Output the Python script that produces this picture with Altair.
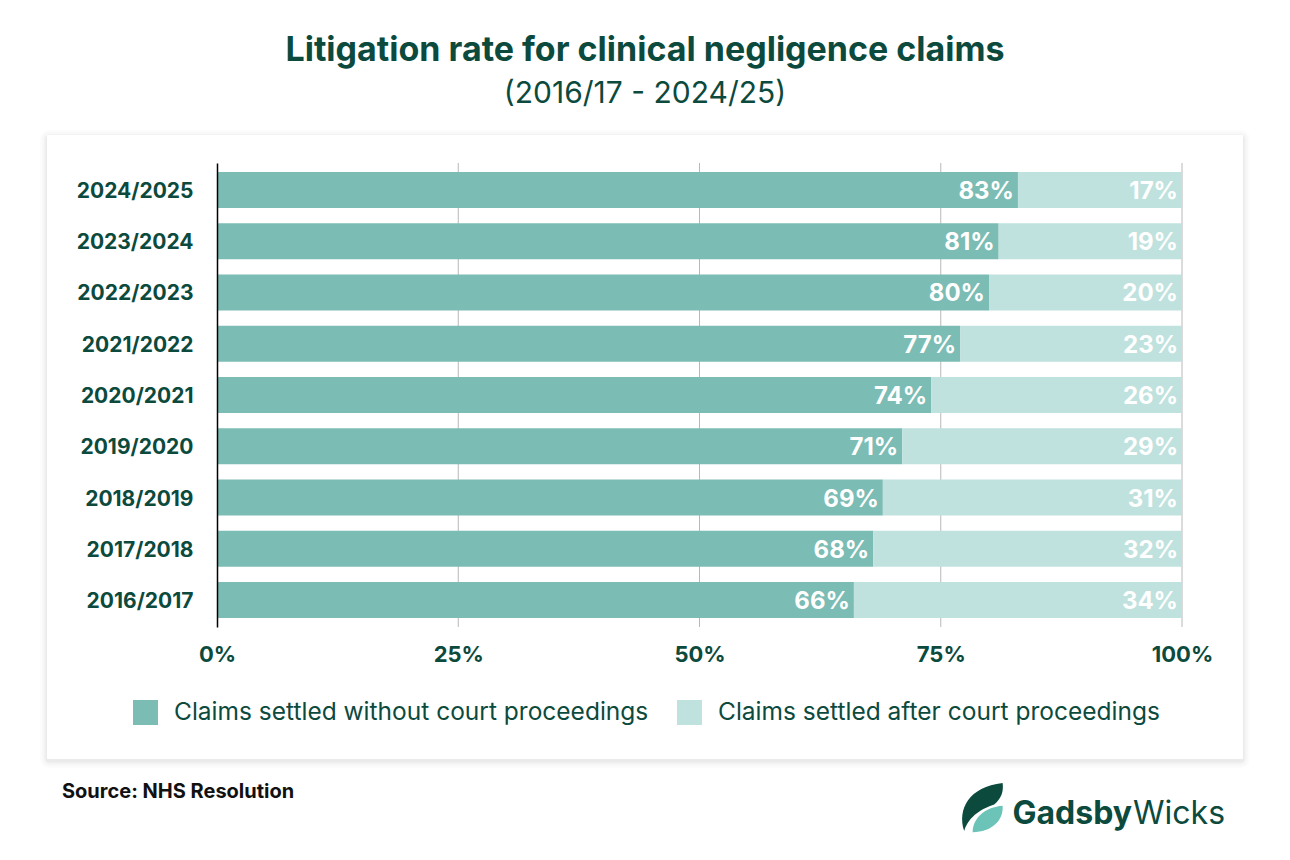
import altair as alt
import pandas as pd

years = ["2016/2017", "2017/2018", "2018/2019", "2019/2020", "2020/2021",
         "2021/2022", "2022/2023", "2023/2024", "2024/2025"]
without_court = [66, 68, 69, 71, 74, 77, 80, 81, 83]
after_court = [34, 32, 31, 29, 26, 23, 20, 19, 17]
series = ["Claims settled without court proceedings", "Claims settled after court proceedings"]
colors = ["#7bbcb4", "#bfe2de"]
x_ticks = [0, 25, 50, 75, 100]
grid_vals = [25, 50, 75, 100]

DARK = "#0c4a3d"
FONT = "Inter"
W, H = 965, 464

rows = []
for y, a, b in zip(years, without_court, after_court):
    rows.append({"year": y, "series": series[0], "value": a, "order": 0})
    rows.append({"year": y, "series": series[1], "value": b, "order": 1})
df = pd.DataFrame(rows)
year_sort = list(reversed(years))

# card background with soft shadow
card_df = pd.DataFrame({"k": [0]})
def card(pad, op):
    return alt.Chart(card_df).mark_rect(fill="#000000", opacity=op, cornerRadius=pad + 2).encode(
        x=alt.value(-170 - pad), x2=alt.value(1026 + pad),
        y=alt.value(-28 - pad + 2), y2=alt.value(596 + pad + 2))
shadows = [card(p, o) for p, o in [(7, 0.012), (5, 0.015), (3, 0.02), (1.5, 0.03)]]
card_main = alt.Chart(card_df).mark_rect(fill="#ffffff").encode(
    x=alt.value(-170), x2=alt.value(1026), y=alt.value(-28), y2=alt.value(596))

grid = alt.Chart(pd.DataFrame({"g": grid_vals})).mark_rule(color="#b8b8b8", strokeWidth=1).encode(
    x=alt.X("g:Q", scale=alt.Scale(domain=[0, 100])),
    y=alt.value(0), y2=alt.value(H))

base = alt.Chart(df)
bars = base.mark_bar(size=36).encode(
    x=alt.X("value:Q", stack="zero", scale=alt.Scale(domain=[0, 100]),
            axis=alt.Axis(values=x_ticks, labelExpr="datum.value + '%'", title=None, grid=False,
                          domain=False, ticks=False, labelFont=FONT, labelFontSize=22,
                          labelFontWeight="bold", labelColor=DARK, labelPadding=17,
                          labelFlush=False, zindex=1)),
    y=alt.Y("year:N", sort=year_sort,
            scale=alt.Scale(paddingInner=0.3, paddingOuter=0.175),
            axis=alt.Axis(title=None, ticks=False, domain=True, domainColor="#000000",
                          domainWidth=1.5, labelFont=FONT, labelFontSize=21,
                          labelFontWeight="bold", labelColor=DARK, labelPadding=24,
                          labelOffset=2, zindex=1)),
    color=alt.Color("series:N", scale=alt.Scale(domain=series, range=colors),
                    legend=alt.Legend(title=None, orient="none", legendX=-84, legendY=537,
                                      direction="horizontal", symbolType="square",
                                      symbolSize=625, symbolStrokeWidth=0, symbolOpacity=1,
                                      labelFont=FONT, labelFontSize=24.5, labelColor=DARK,
                                      labelLimit=0, labelOffset=16, columnPadding=28, zindex=1)),
    order=alt.Order("order:Q"),
)

labels = base.transform_stack(
    stack="value", groupby=["year"], as_=["v0", "v1"],
    sort=[alt.SortField("order", order="ascending")]
).transform_calculate(lbl="datum.value + '%'").mark_text(
    align="right", baseline="middle", dx=-4, dy=2, color="white",
    font=FONT, fontSize=24, fontWeight="bold"
).encode(
    x=alt.X("v1:Q"),
    y=alt.Y("year:N", sort=year_sort),
    text="lbl:N",
)

def txt(s, x, y, size, weight="normal", color=DARK, align="center"):
    return alt.Chart(pd.DataFrame({"t": [s]})).mark_text(
        align=align, baseline="alphabetic", font=FONT, fontSize=size,
        fontWeight=weight, color=color).encode(
        x=alt.value(x), y=alt.value(y), text="t:N")

title = txt("Litigation rate for clinical negligence claims", 428, -102, 34, "bold")
subtitle = txt("(2016/17 - 2024/25)", 428, -60, 30)
source = txt("Source: NHS Resolution", -155, 635, 20, "bold", "#111111", "left")
logo1 = txt("Gadsby", 915, 661, 32, "bold", DARK, "right")
logo2 = txt("Wicks", 916, 661, 32, "normal", DARK, "left")

leaf_dark = "M 0.9 -1 C -0.5 -0.85 -1.0 0.1 -0.7 1 C -0.5 0.35 0.1 0.05 0.55 -0.1 C 0.85 -0.35 0.95 -0.65 0.9 -1 Z"
leaf_light = "M 0.9 -0.05 C 0.2 0.0 -0.35 0.45 -0.35 1.05 C 0.45 1.05 0.95 0.55 0.9 -0.05 Z"
leaf_df = pd.DataFrame({"k": [0]})
leaf1 = alt.Chart(leaf_df).mark_point(shape=leaf_dark, filled=True, fill=DARK, opacity=1,
                                      size=2304, strokeWidth=0).encode(
    x=alt.value(764), y=alt.value(644))
leaf2 = alt.Chart(leaf_df).mark_point(shape=leaf_light, filled=True, fill="#6cc4b8", opacity=1,
                                      size=2304, strokeWidth=0).encode(
    x=alt.value(764), y=alt.value(644))

chart = alt.layer(
    *shadows, card_main, grid, bars, labels, title, subtitle, source, logo1, logo2, leaf1, leaf2
).properties(
    width=W, height=H,
    autosize=alt.AutoSizeParams(type="none"),
    padding={"left": 209, "top": 155, "right": 100, "bottom": 220},
    background="#ffffff",
).configure_view(stroke=None)

chart.save("out.html", embed_options={"renderer": "svg", "actions": False})
